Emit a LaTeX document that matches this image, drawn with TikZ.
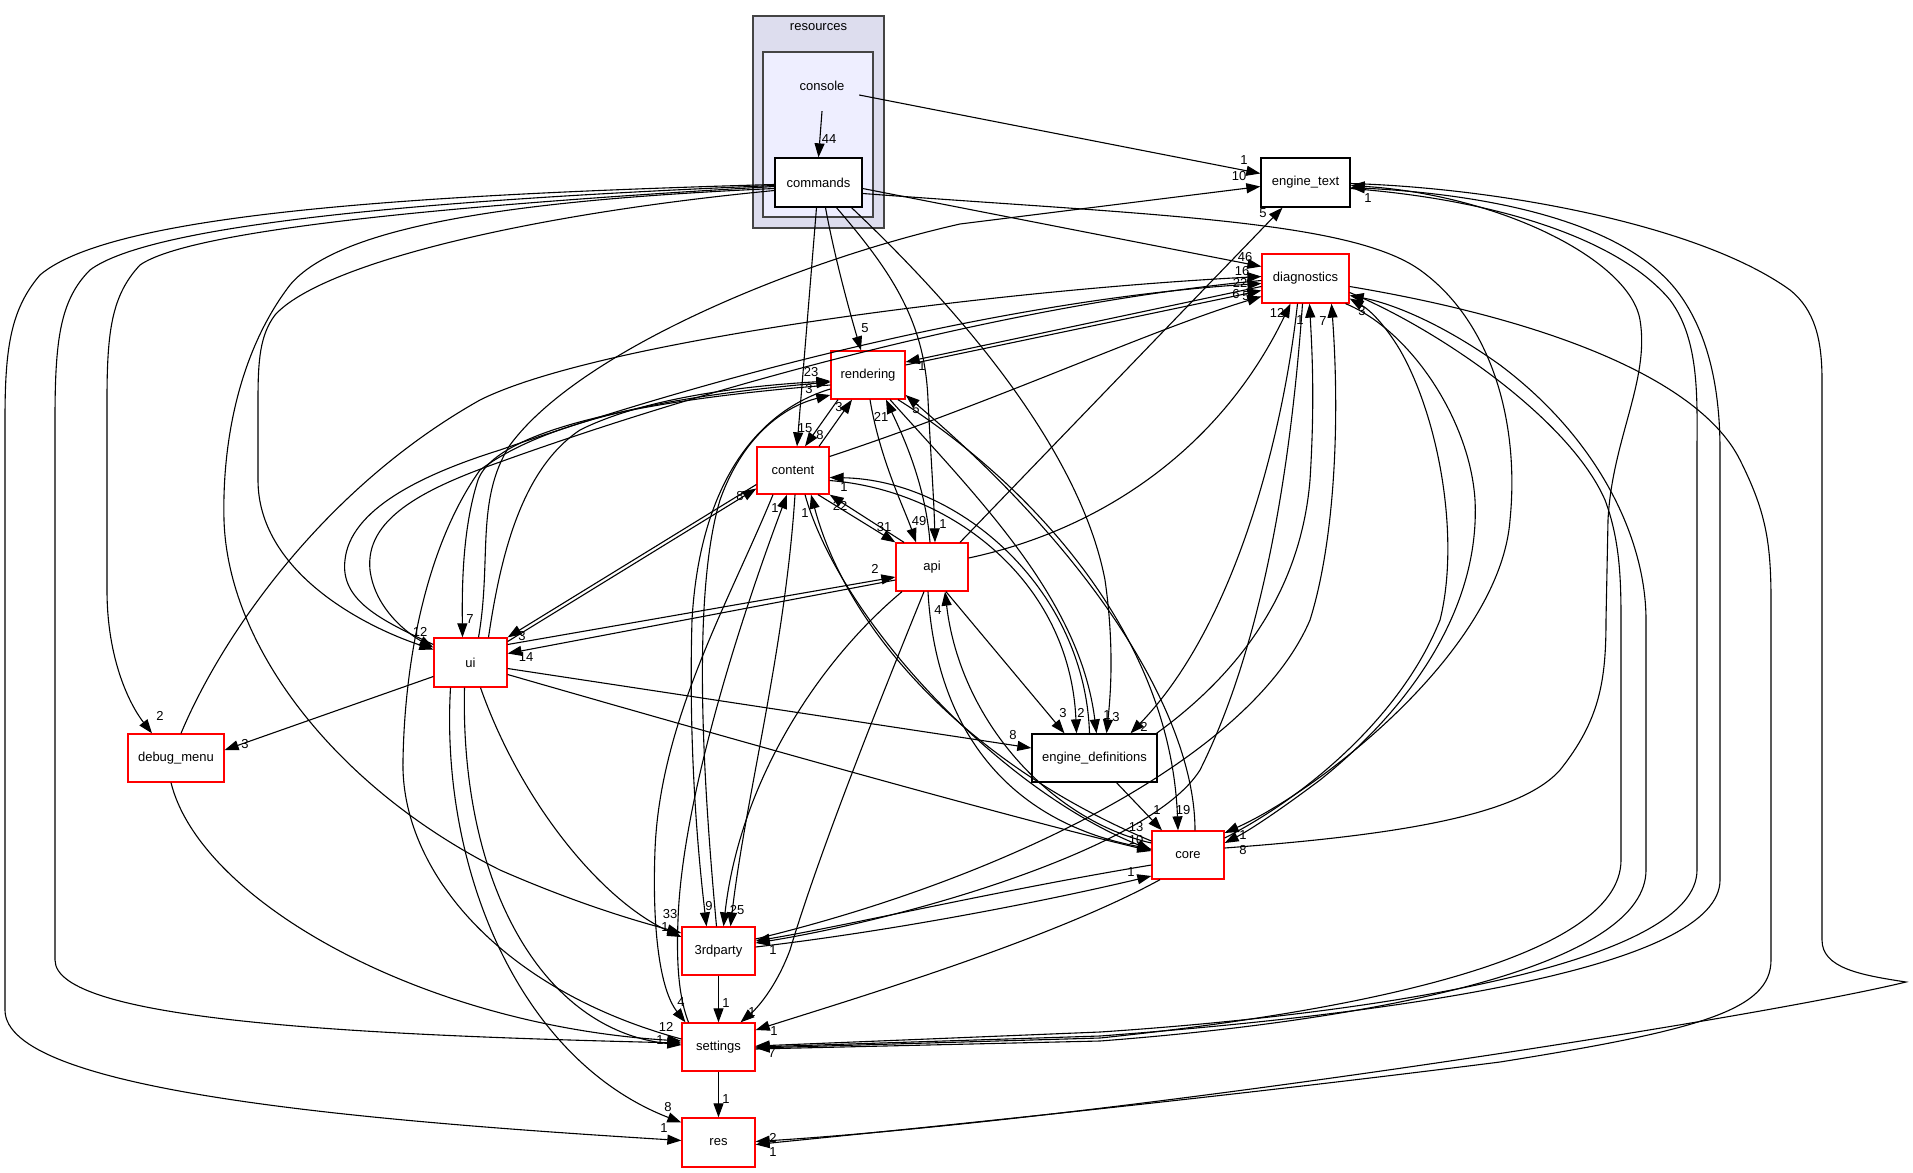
\documentclass[tikz,border=0pt]{standalone}
\usepackage{fontspec}
\setmainfont{Liberation Sans}
\usetikzlibrary{arrows.meta}
\definecolor{clA}{HTML}{DDDDEE}
\definecolor{clB}{HTML}{EEEEFF}
\definecolor{clE}{HTML}{444444}
\tikzset{
 box/.style={draw, line width=1.3pt, fill=white, inner sep=0pt, font=\fontsize{13}{15}\selectfont},
 redbox/.style={box, draw=red},
 blkbox/.style={box, draw=black},
 e/.style={draw=black, line width=1.1pt, -{Triangle[length=14pt,width=10pt]}},
 lbl/.style={inner sep=0pt, font=\fontsize{13}{13}\selectfont},
 clus/.style={draw=clE, line width=1.5pt},
}
\begin{document}
\begin{tikzpicture}[x=1pt,y=-1pt]
\useasboundingbox (0,0) rectangle (1913,1172);
\fill[white] (0,0) rectangle (1913,1172);
% clusters
\path[clus, fill=clA] (753,16) rectangle (884,228);
\path[clus, fill=clB] (763,52) rectangle (873,217);
\node[lbl] (resources) at (818.5,27) {resources};
\node[inner sep=0pt, minimum width=74pt, minimum height=50pt, font=\fontsize{13}{15}\selectfont] (console) at (822,86) {console};
% nodes
\node[blkbox, minimum width=87pt, minimum height=49pt] (commands) at (818.5,182.5) {commands};
\node[blkbox, minimum width=89pt, minimum height=49pt] (engine_text) at (1305.5,182.5) {engine\_text};
\node[redbox, minimum width=87pt, minimum height=49pt] (diagnostics) at (1305.5,278.5) {diagnostics};
\node[redbox, minimum width=74pt, minimum height=48pt] (rendering) at (868,375) {rendering};
\node[redbox, minimum width=72pt, minimum height=47pt] (content) at (793,470.5) {content};
\node[redbox, minimum width=72pt, minimum height=48pt] (api) at (932,567) {api};
\node[redbox, minimum width=73pt, minimum height=49pt] (ui) at (470.5,662.5) {ui};
\node[redbox, minimum width=96pt, minimum height=48pt] (debug_menu) at (176,758) {debug\_menu};
\node[blkbox, minimum width=125pt, minimum height=48pt] (engine_definitions) at (1094.5,758) {engine\_definitions};
\node[redbox, minimum width=72pt, minimum height=48pt] (core) at (1188,855) {core};
\node[redbox, minimum width=73pt, minimum height=48pt] (3rdparty) at (718.5,951) {3rdparty};
\node[redbox, minimum width=73pt, minimum height=48pt] (settings) at (718.5,1047) {settings};
\node[redbox, minimum width=73pt, minimum height=49pt] (res) at (718.5,1142.5) {res};
% edges
\draw[e] (console.south) -- (commands.north);
\draw[e] ([yshift=-9pt]console.east) -- ([yshift=9pt]engine_text.west);
\draw[e] ([yshift=-6pt]commands.east) -- ([yshift=12pt]diagnostics.west);
\draw[e] ([yshift=-11pt]commands.east) .. controls (1150,215) and (1350,220) .. (1420,270) .. controls (1490,320) and (1520,420) .. (1510,520) .. controls (1500,650) and (1320,790) .. ([yshift=22pt]core.east);
\draw[e] ([xshift=-2pt]commands.south) -- ([xshift=4pt]content.north);
\draw[e] ([xshift=7pt]commands.south) .. controls (835,260) and (852,320) .. ([xshift=-7pt]rendering.north);
\draw[e] ([xshift=18pt]commands.south) .. controls (890,270) and (925,320) .. (928,400) .. controls (931,460) and (934,500) .. ([xshift=3pt]api.north);
\draw[e] ([xshift=33pt]commands.south) .. controls (960,310) and (1080,450) .. (1105,580) .. controls (1115,650) and (1110,700) .. ([xshift=12pt]engine_definitions.north);
\draw[e] ([yshift=-2pt]commands.west) .. controls (400,195) and (110,215) .. (40,275) .. controls (10,310) and (5,350) .. (5,420) -- (5,1010) .. controls (5,1090) and (350,1120) .. ([yshift=2pt]res.west);
\draw[e] ([yshift=-3pt]commands.west) .. controls (420,200) and (150,225) .. (90,270) .. controls (60,300) and (55,340) .. (55,420) -- (55,960) .. controls (55,1020) and (350,1035) .. ([yshift=4pt]settings.west);
\draw[e] ([yshift=-4pt]commands.west) .. controls (450,205) and (190,230) .. (140,265) .. controls (112,295) and (107,330) .. (107,400) -- (107,590) .. controls (107,660) and (130,705) .. ([xshift=-24pt]debug_menu.north);
\draw[e] ([yshift=-6pt]commands.west) .. controls (520,200) and (340,225) .. (290,285) .. controls (240,350) and (222,440) .. (224,520) .. controls (228,650) and (340,790) .. (500,870) .. controls (580,905) and (640,922) .. ([yshift=18pt]3rdparty.west);
\draw[e] ([yshift=-8pt]commands.west) .. controls (520,215) and (320,265) .. (275,315) .. controls (260,335) and (258,360) .. (258,400) -- (258,480) .. controls (258,570) and (360,625) .. ([yshift=13pt]ui.west);
\draw[e] ([xshift=8pt]ui.north) .. controls (492,560) and (475,500) .. (510,445) .. controls (580,350) and (800,260) .. (960,224) -- ([yshift=-4pt]engine_text.west);
\draw[e] ([yshift=-10pt]rendering.west) .. controls (700,395) and (500,420) .. (478,480) .. controls (462,530) and (462,590) .. ([xshift=-8pt]ui.north);
\draw[e] ([xshift=18pt]ui.north) .. controls (500,560) and (520,470) .. (580,430) .. controls (650,395) and (760,385) .. ([yshift=-6pt]rendering.west);
\draw[e] ([xshift=-2pt]3rdparty.north) .. controls (705,800) and (690,600) .. (720,500) .. controls (745,430) and (790,405) .. ([yshift=-20pt]rendering.west);
\draw[e] ([yshift=-14pt]rendering.west) .. controls (760,410) and (700,480) .. (692,620) .. controls (688,760) and (700,870) .. ([xshift=-12pt]3rdparty.north);
\draw[e] ([xshift=-30pt]settings.north) .. controls (680,1000) and (676,970) .. (678,920) .. controls (682,800) and (740,620) .. ([xshift=-6pt]content.south);
\draw[e] ([xshift=-20pt]content.south) .. controls (730,600) and (660,720) .. (655,850) .. controls (652,930) and (660,990) .. ([xshift=-33pt]settings.north);
\draw[e] ([xshift=2pt]content.south) .. controls (785,650) and (745,800) .. ([xshift=12pt]3rdparty.north);
\draw[e] ([xshift=-30pt]api.south) .. controls (820,660) and (740,780) .. ([xshift=5pt]3rdparty.north);
\draw[e] ([xshift=12pt]content.south) .. controls (840,620) and (1000,790) .. ([yshift=5pt]core.west);
\draw[e] ([yshift=14pt]core.west) .. controls (980,770) and (850,640) .. ([xshift=18pt]content.south);
\draw[e] ([xshift=26pt]content.north) -- ([xshift=-16pt]rendering.south);
\draw[e] ([xshift=-30pt]rendering.south) -- ([xshift=12pt]content.north);
\draw[e] ([yshift=14pt]content.east) .. controls (1000,400) and (1150,330) .. ([yshift=-18pt]diagnostics.west);
\draw[e] ([yshift=10pt]rendering.east) -- ([yshift=-12pt]diagnostics.west);
\draw[e] ([yshift=-8pt]diagnostics.west) -- ([yshift=13pt]rendering.east);
\draw[e] ([xshift=5pt]debug_menu.north) .. controls (220,640) and (320,490) .. (480,400) .. controls (600,340) and (1000,290) .. ([yshift=2pt]diagnostics.west);
\draw[e] ([yshift=18pt]ui.west) .. controls (380,620) and (340,600) .. (345,560) .. controls (350,510) and (420,475) .. (500,450) .. controls (700,380) and (1000,300) .. ([yshift=-5pt]diagnostics.west);
\draw[e] ([yshift=-2pt]diagnostics.west) .. controls (1000,305) and (700,390) .. (500,462) .. controls (420,490) and (365,520) .. (370,570) .. controls (375,610) and (410,635) .. ([yshift=15pt]ui.west);
\draw[e] ([xshift=28pt]api.north) -- ([xshift=-23pt]engine_text.south);
\draw[e] ([yshift=7pt]core.east) .. controls (1400,835) and (1520,815) .. (1560,770) .. controls (1600,720) and (1606,680) .. (1606,620) -- (1608,520) .. controls (1612,440) and (1650,380) .. (1640,320) .. controls (1630,260) and (1500,195) .. ([yshift=-3pt]engine_text.east);
\draw[e] ([yshift=-6pt]engine_text.east) .. controls (1500,200) and (1620,240) .. (1670,300) .. controls (1700,340) and (1697,400) .. (1697,450) -- (1697,870) .. controls (1697,960) and (1400,1012) .. (1100,1032) -- ([yshift=1pt]settings.east);
\draw[e] (settings.east) -- (1100,1036) .. controls (1420,1012) and (1720,965) .. (1720,880) -- (1720,450) .. controls (1720,380) and (1705,330) .. (1680,295) .. controls (1630,225) and (1500,195) .. ([yshift=-5pt]engine_text.east);
\draw[e] ([yshift=-14pt]diagnostics.east) .. controls (1440,330) and (1570,420) .. (1605,500) .. controls (1620,540) and (1621,580) .. (1621,620) -- (1621,860) .. controls (1621,960) and (1350,1012) .. (1100,1038) -- ([yshift=-1pt]settings.east);
\draw[e] ([yshift=-2pt]settings.east) -- (1100,1041) .. controls (1400,1018) and (1646,962) .. (1646,870) -- (1646,620) .. controls (1646,540) and (1600,440) .. (1500,365) .. controls (1440,322) and (1390,303) .. ([yshift=-17pt]diagnostics.east);
\draw[e] ([yshift=-8pt]diagnostics.east) .. controls (1550,320) and (1700,380) .. (1740,460) .. controls (1765,510) and (1771,540) .. (1771,600) -- (1771,960) .. controls (1771,1010) and (1700,1030) .. (1500,1062) .. controls (1200,1100) and (900,1130) .. ([yshift=-2pt]res.east);
\draw[e] ([yshift=-1pt]engine_text.east) .. controls (1500,188) and (1700,225) .. (1790,290) .. controls (1815,310) and (1822,340) .. (1822,380) -- (1822,940) .. controls (1822,968) and (1860,975) .. (1906,982) .. controls (1750,1020) and (1100,1120) .. ([yshift=1pt]res.east);
\draw[e] ([xshift=40pt]diagnostics.south) .. controls (1410,330) and (1470,420) .. (1475,500) .. controls (1480,600) and (1420,700) .. (1320,780) .. controls (1280,810) and (1250,830) .. ([yshift=12pt]core.east);
\draw[e] ([yshift=17pt]core.east) .. controls (1300,800) and (1400,720) .. (1440,620) .. controls (1460,540) and (1440,420) .. (1400,350) .. controls (1385,325) and (1370,310) .. ([yshift=-20pt]diagnostics.east);
\draw[e] ([yshift=9pt]api.east) .. controls (1100,530) and (1220,450) .. ([xshift=-15pt]diagnostics.south);
\draw[e] ([xshift=62pt]engine_definitions.north) .. controls (1230,680) and (1300,600) .. (1310,480) .. controls (1315,400) and (1312,350) .. ([xshift=4pt]diagnostics.south);
\draw[e] ([xshift=-8pt]diagnostics.south) .. controls (1285,420) and (1240,620) .. ([xshift=36pt]engine_definitions.north);
\draw[e] ([yshift=12pt]3rdparty.east) .. controls (1000,880) and (1250,760) .. (1310,620) .. controls (1335,540) and (1340,420) .. ([xshift=26pt]diagnostics.south);
\draw[e] ([xshift=-3pt]diagnostics.south) .. controls (1290,480) and (1260,650) .. (1200,770) .. controls (1150,850) and (900,920) .. ([yshift=8pt]3rdparty.east);
\draw[e] ([yshift=-10pt]core.west) .. controls (1000,890) and (850,925) .. ([yshift=10pt]3rdparty.east);
\draw[e] ([yshift=4pt]3rdparty.east) .. controls (900,930) and (1050,900) .. ([yshift=-21pt]core.west);
\draw[e] ([xshift=-28pt]core.south) .. controls (1050,940) and (850,1000) .. ([yshift=17pt]settings.east);
\draw[e] ([xshift=-8pt]api.south) .. controls (880,700) and (820,850) .. (790,950) .. controls (775,990) and (755,1010) .. ([xshift=22pt]settings.north);
\draw[e] (3rdparty.south) -- (settings.north);
\draw[e] (settings.south) -- (res.north);
\draw[e] ([xshift=-4pt]api.south) .. controls (935,720) and (1000,820) .. ([yshift=6pt]core.west);
\draw[e] ([yshift=12pt]core.west) .. controls (1050,820) and (960,720) .. ([xshift=13pt]api.south);
\draw[e] ([xshift=14pt]api.south) -- ([xshift=-30pt]engine_definitions.north);
\draw[e] ([yshift=-10pt]content.east) .. controls (950,490) and (1070,580) .. ([xshift=-18pt]engine_definitions.north);
\draw[e] ([xshift=-5pt]engine_definitions.north) .. controls (1085,590) and (960,480) .. ([yshift=-7pt]content.east);
\draw[e] ([xshift=22pt]rendering.south) .. controls (980,500) and (1080,600) .. ([xshift=2pt]engine_definitions.north);
\draw[e] ([xshift=30pt]rendering.south) .. controls (1010,470) and (1170,620) .. ([xshift=-10pt]core.north);
\draw[e] ([xshift=7pt]core.north) .. controls (1195,720) and (1100,560) .. ([yshift=-20pt]rendering.east);
\draw[e] ([xshift=2pt]rendering.south) .. controls (880,460) and (905,510) .. ([xshift=-16pt]api.north);
\draw[e] ([xshift=-2pt]api.north) .. controls (925,480) and (900,430) .. ([xshift=18pt]rendering.south);
\draw[e] ([xshift=-28pt]api.north) -- (content.south east);
\draw[e] ([xshift=25pt]content.south) -- (api.north west);
\draw[e] ([yshift=18pt]ui.east) -- ([yshift=-10pt]api.west);
\draw[e] ([yshift=-13pt]api.west) -- ([yshift=9pt]ui.east);
\draw[e] ([yshift=21pt]ui.east) -- ([yshift=-18pt]content.west);
\draw[e] ([yshift=-14pt]content.west) -- (ui.north east);
\draw[e] ([yshift=-14pt]ui.west) -- ([yshift=8pt]debug_menu.east);
\draw[e] ([yshift=-6pt]ui.east) -- ([yshift=10pt]engine_definitions.west);
\draw[e] ([yshift=-12pt]ui.east) .. controls (700,730) and (1000,815) .. ([yshift=4pt]core.west);
\draw[e] ([xshift=10pt]ui.south) .. controls (520,800) and (600,900) .. ([yshift=14pt]3rdparty.west);
\draw[e] ([xshift=-20pt]ui.south) .. controls (440,870) and (520,1060) .. ([yshift=20pt]res.west);
\draw[e] ([xshift=-6pt]ui.south) .. controls (460,880) and (540,1030) .. ([yshift=2pt]settings.west);
\draw[e] ([yshift=8pt]settings.west) .. controls (500,990) and (400,870) .. (403,760) .. controls (405,650) and (430,540) .. (480,470) .. controls (560,410) and (720,392) .. ([yshift=-7pt]rendering.west);
\draw[e] ([xshift=-5pt]debug_menu.south) .. controls (200,900) and (420,1025) .. ([yshift=6pt]settings.west);
\draw[e] ([xshift=22pt]engine_definitions.south) -- ([xshift=-26pt]core.north);
% labels
\node[lbl] (l01) at (829,139) {44};
\node[lbl] (l02) at (1244,160) {1};
\node[lbl] (l03) at (1239,176) {10};
\node[lbl] (l04) at (1263,213) {5};
\node[lbl] (l05) at (1368,198) {1};
\node[lbl] (l06) at (1245,257) {46};
\node[lbl] (l07) at (1242,271) {16};
\node[lbl] (l08) at (1240,283) {22};
\node[lbl] (l09) at (1236,294) {6};
\node[lbl] (l10) at (1246,296) {5};
\node[lbl] (l11) at (1277,313) {12};
\node[lbl] (l12) at (1300,320) {1};
\node[lbl] (l13) at (1323,321) {7};
\node[lbl] (l14) at (1362,311) {3};
\node[lbl] (l15) at (922,366) {1};
\node[lbl] (l16) at (865,328) {5};
\node[lbl] (l17) at (811,372) {23};
\node[lbl] (l18) at (809,389) {3};
\node[lbl] (l19) at (839,407) {3};
\node[lbl] (l20) at (820,435) {8};
\node[lbl] (l21) at (881,417) {21};
\node[lbl] (l22) at (916,409) {5};
\node[lbl] (l23) at (805,428) {15};
\node[lbl] (l24) at (844,487) {1};
\node[lbl] (l25) at (840,506) {22};
\node[lbl] (l26) at (740,496) {8};
\node[lbl] (l27) at (775,508) {1};
\node[lbl] (l28) at (805,513) {1};
\node[lbl] (l29) at (884,527) {31};
\node[lbl] (l30) at (919,521) {49};
\node[lbl] (l31) at (943,524) {1};
\node[lbl] (l32) at (875,569) {2};
\node[lbl] (l33) at (938,610) {4};
\node[lbl] (l34) at (470,619) {7};
\node[lbl] (l35) at (420,632) {12};
\node[lbl] (l36) at (522,636) {3};
\node[lbl] (l37) at (526,657) {14};
\node[lbl] (l38) at (160,716) {2};
\node[lbl] (l39) at (245,744) {3};
\node[lbl] (l40) at (1013,735) {8};
\node[lbl] (l41) at (1063,713) {3};
\node[lbl] (l42) at (1081,713) {2};
\node[lbl] (l43) at (1107,715) {1};
\node[lbl] (l44) at (1116,717) {3};
\node[lbl] (l45) at (1144,727) {2};
\node[lbl] (l46) at (1157,810) {1};
\node[lbl] (l47) at (1183,810) {19};
\node[lbl] (l48) at (1136,827) {13};
\node[lbl] (l49) at (1136,840) {10};
\node[lbl] (l50) at (1243,835) {1};
\node[lbl] (l51) at (1243,850) {8};
\node[lbl] (l52) at (1131,872) {1};
\node[lbl] (l53) at (670,914) {33};
\node[lbl] (l54) at (665,927) {1};
\node[lbl] (l55) at (709,906) {9};
\node[lbl] (l56) at (737,910) {25};
\node[lbl] (l57) at (773,950) {1};
\node[lbl] (l58) at (681,1002) {4};
\node[lbl] (l59) at (726,1003) {1};
\node[lbl] (l60) at (752,1012) {1};
\node[lbl] (l61) at (774,1031) {1};
\node[lbl] (l62) at (666,1027) {12};
\node[lbl] (l63) at (660,1040) {1};
\node[lbl] (l64) at (772,1053) {7};
\node[lbl] (l65) at (726,1099) {1};
\node[lbl] (l66) at (668,1107) {8};
\node[lbl] (l67) at (664,1128) {1};
\node[lbl] (l68) at (773,1138) {2};
\node[lbl] (l69) at (773,1152) {1};
\end{tikzpicture}
\end{document}
